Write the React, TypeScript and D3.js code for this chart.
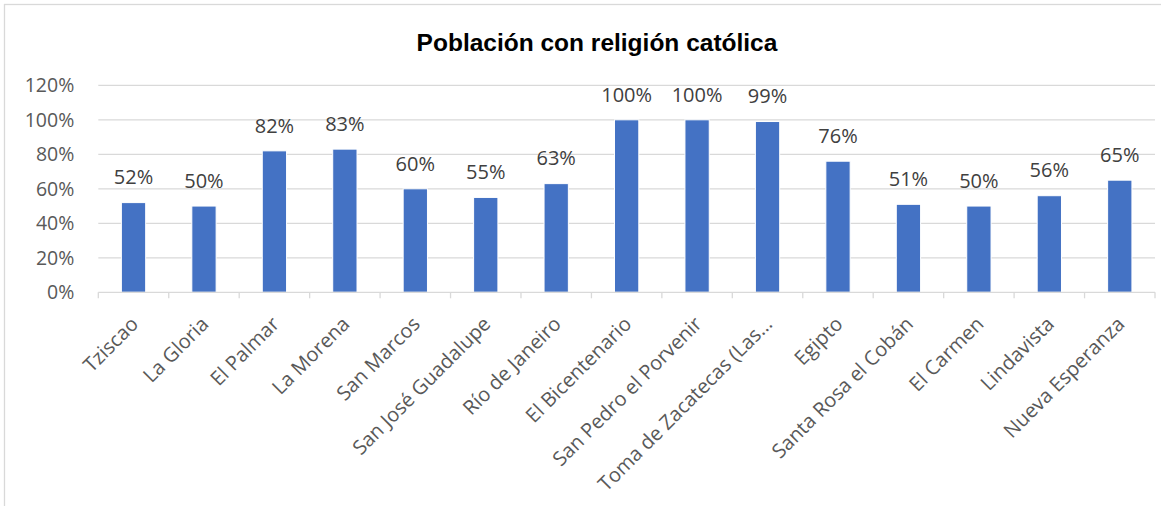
import * as d3 from "d3";
import { useEffect, useRef } from "react";

const categories = [
  "Tziscao",
  "La Gloria",
  "El Palmar",
  "La Morena",
  "San Marcos",
  "San José Guadalupe",
  "Río de Janeiro",
  "El Bicentenario",
  "San Pedro el Porvenir",
  "Toma de Zacatecas (Las…",
  "Egipto",
  "Santa Rosa el Cobán",
  "El Carmen",
  "Lindavista",
  "Nueva Esperanza",
];

const values = [52, 50, 82, 83, 60, 55, 63, 100, 100, 99, 76, 51, 50, 56, 65];

const yTicks = [0, 20, 40, 60, 80, 100, 120];

const title = "Población con religión católica";

const W = 1161;
const H = 506;

export default function App() {
  const svgRef = useRef<SVGSVGElement>(null);

  useEffect(() => {
    if (!svgRef.current) return;
    const svg = d3.select(svgRef.current);
    svg.selectAll("*").remove();

    const margin = { top: 85.3, right: 6, bottom: 213.7, left: 98.3 };
    const plotW = W - margin.left - margin.right;
    const plotH = H - margin.top - margin.bottom;
    const font = "'Open Sans', 'Noto Sans', sans-serif";

    // chart frame
    svg
      .append("rect")
      .attr("x", 4.5)
      .attr("y", 4.5)
      .attr("width", W + 10)
      .attr("height", H + 10)
      .attr("fill", "white")
      .attr("stroke", "#d9d9d9")
      .attr("stroke-width", 1.3);

    svg
      .append("text")
      .attr("x", 597)
      .attr("y", 51)
      .attr("text-anchor", "middle")
      .style("font-family", "'Liberation Sans', Arial, sans-serif")
      .style("font-weight", "bold")
      .style("font-size", "24.5px")
      .style("fill", "#000")
      .text(title);

    const g = svg
      .append("g")
      .attr("transform", `translate(${margin.left},${margin.top})`);

    const x = d3
      .scaleBand<string>()
      .domain(categories)
      .range([0, plotW])
      .paddingInner(0.655)
      .paddingOuter(0.3275);

    const y = d3.scaleLinear().domain([0, 120]).range([plotH, 0]);

    // gridlines
    g.selectAll("line.grid")
      .data(yTicks.filter((t) => t > 0))
      .enter()
      .append("line")
      .attr("class", "grid")
      .attr("x1", 0)
      .attr("x2", plotW)
      .attr("y1", (d) => y(d))
      .attr("y2", (d) => y(d))
      .attr("stroke", "#d9d9d9")
      .attr("stroke-width", 1.3);

    // y tick labels
    g.selectAll("text.ytick")
      .data(yTicks)
      .enter()
      .append("text")
      .attr("class", "ytick")
      .attr("x", -24)
      .attr("y", (d) => y(d))
      .attr("dy", "0.35em")
      .attr("text-anchor", "end")
      .style("font-family", font)
      .style("font-size", "19.5px")
      .style("fill", "#595959")
      .text((d) => `${d}%`);

    // bars
    g.selectAll("rect.bar")
      .data(values)
      .enter()
      .append("rect")
      .attr("class", "bar")
      .attr("x", (_, i) => x(categories[i])!)
      .attr("y", (d) => y(d))
      .attr("width", x.bandwidth())
      .attr("height", (d) => plotH - y(d))
      .attr("fill", "#4472c4")
      .attr("stroke", "white")
      .attr("stroke-width", 1);

    // data labels
    g.selectAll("text.val")
      .data(values)
      .enter()
      .append("text")
      .attr("class", "val")
      .attr("x", (_, i) => x(categories[i])! + x.bandwidth() / 2)
      .attr("y", (d) => y(d) - 18.2)
      .attr("text-anchor", "middle")
      .style("font-family", font)
      .style("font-size", "20px")
      .style("fill", "#404040")
      .text((d) => `${d}%`);

    // x axis line & ticks
    g.append("line")
      .attr("x1", 0)
      .attr("x2", plotW)
      .attr("y1", plotH)
      .attr("y2", plotH)
      .attr("stroke", "#d9d9d9")
      .attr("stroke-width", 1.3);

    const step = x.step();
    g.selectAll("line.xtick")
      .data(d3.range(categories.length + 1))
      .enter()
      .append("line")
      .attr("class", "xtick")
      .attr("x1", (i) => i * step)
      .attr("x2", (i) => i * step)
      .attr("y1", plotH)
      .attr("y2", plotH + 6)
      .attr("stroke", "#d9d9d9")
      .attr("stroke-width", 1.3);

    // category labels
    g.selectAll("text.cat")
      .data(categories)
      .enter()
      .append("text")
      .attr("class", "cat")
      .attr(
        "transform",
        (d) =>
          `translate(${x(d)! + x.bandwidth() / 2 + 6},${plotH + 33}) rotate(-45)`
      )
      .attr("text-anchor", "end")
      .style("font-family", font)
      .style("font-size", "20px")
      .style("fill", "#595959")
      .text((d) => d);
  }, []);

  return (
    <svg
      ref={svgRef}
      width={W}
      height={H}
      style={{ position: "absolute", left: 0, top: 0, background: "white" }}
    />
  );
}
